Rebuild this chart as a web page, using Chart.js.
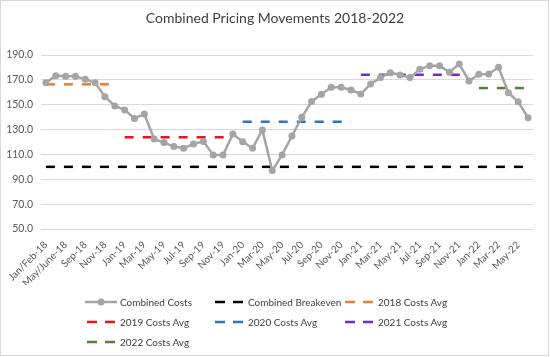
<!DOCTYPE html>
<html>
<head>
<meta charset="utf-8">
<script src="https://cdn.jsdelivr.net/npm/chart.js@4.4.1/dist/chart.umd.min.js"></script>
<style>
  html, body { margin: 0; padding: 0; background: #fff; }
  #wrap { position: relative; width: 550px; height: 357px; overflow: hidden; }
  #frame { position: absolute; left: 0; top: 0; width: 547px; height: 354px; border: 1px solid #D9D9D9; pointer-events: none; }
  #title { position: absolute; left: 0; width: 550px; top: 9px; text-align: center; font-family: Lato, "Open Sans", sans-serif; font-size: 14px; color: #404040; }
  #legend { position: absolute; left: 85px; top: 292px; font-family: Lato, "Open Sans", sans-serif; font-size: 10px; color: #404040; }
  .item { position: absolute; height: 20px; display: flex; align-items: center; white-space: nowrap; }
  .item svg { margin-right: 3px; }
</style>
</head>
<body>
<div id="wrap">
  <canvas id="c" width="550" height="357"></canvas>
  <div id="title">Combined Pricing Movements 2018-2022</div>
  <div id="legend"></div>
  <div id="frame"></div>
</div>
<script>
// ---- data ----
const categories = [
  'Jan/Feb-18','Mar/Apr-18','May/June-18','Jul/Aug-18','Sep-18','Oct-18','Nov-18','Dec-18',
  'Jan-19','Feb-19','Mar-19','Apr-19','May-19','Jun-19','Jul-19','Aug-19','Sep-19','Oct-19','Nov-19','Dec-19',
  'Jan-20','Feb-20','Mar-20','Apr-20','May-20','Jun-20','Jul-20','Aug-20','Sep-20','Oct-20','Nov-20','Dec-20',
  'Jan-21','Feb-21','Mar-21','Apr-21','May-21','Jun-21','Jul-21','Aug-21','Sep-21','Oct-21','Nov-21','Dec-21',
  'Jan-22','Feb-22','Mar-22','Apr-22','May-22','Jun-22'
];
const combinedCosts = [
  167.7,173.4,173.0,173.0,170.4,167.7,156.5,149.0,
  145.8,139.0,142.5,122.4,119.5,116.3,115.0,118.4,120.5,109.6,109.6,126.4,
  120.3,115.0,129.7,97.0,109.6,124.8,139.9,152.5,158.4,164.0,164.0,161.8,
  158.6,166.7,171.8,175.8,173.9,171.8,178.5,181.4,181.4,176.1,182.8,169.1,
  174.5,174.7,180.1,159.7,152.4,139.6
];
const combinedBreakeven = 100;
const avgNames   = ['2018 Costs Avg','2019 Costs Avg','2020 Costs Avg','2021 Costs Avg','2022 Costs Avg'];
const avgValues  = [166.4, 123.8, 136.3, 174.1, 163.4];
const avgStarts  = ['Jan/Feb-18','Jan-19','Jan-20','Jan-21','Jan-22'];
const avgEnds    = ['Dec-18','Dec-19','Dec-20','Dec-21','Jun-22'];
const yTicks = [50,70,90,110,130,150,170,190];

// ---- styles ----
const avgColors = ['#ED7D31','#E8141A','#2E75B6','#6A2BD9','#548235'];
const DASH = [9, 9];

const datasets = [{
  label: 'Combined Costs',
  data: combinedCosts,
  borderColor: '#A5A5A5',
  backgroundColor: '#A5A5A5',
  borderWidth: 2.5,
  pointRadius: 3.5,
  pointBorderWidth: 0,
  pointBackgroundColor: '#A5A5A5',
  tension: 0,
  order: 0
}, {
  label: 'Combined Breakeven',
  data: [{x: categories[0], y: combinedBreakeven}, {x: categories[categories.length - 1], y: combinedBreakeven}],
  borderColor: '#000000',
  borderWidth: 2.5,
  borderDash: DASH,
  pointRadius: 0,
  order: 1
}];
avgNames.forEach((n, i) => {
  datasets.push({
    label: n,
    data: [{x: avgStarts[i], y: avgValues[i]}, {x: avgEnds[i], y: avgValues[i]}],
    borderColor: avgColors[i],
    borderWidth: 2.5,
    borderDash: DASH,
    pointRadius: 0,
    order: 1
  });
});

const chart = new Chart(document.getElementById('c'), {
  type: 'line',
  data: { labels: categories, datasets },
  options: {
    responsive: false,
    animation: false,
    layout: { padding: { top: 55, right: 17, left: 0, bottom: 72 } },
    plugins: { legend: { display: false }, tooltip: { enabled: false }, title: { display: false } },
    scales: {
      x: {
        type: 'category',
        offset: true,
        grid: { display: false },
        border: { display: false },
        ticks: {
          autoSkip: false, maxRotation: 45, minRotation: 45, padding: 2,
          color: '#595959', font: { family: 'Lato', size: 10 },
          callback: function(v, i) { return i % 2 === 0 ? categories[i] : ''; }
        },
        afterFit: function(s) { s.height = 56; }
      },
      y: {
        min: yTicks[0], max: yTicks[yTicks.length - 1],
        afterBuildTicks: function(s) { s.ticks = yTicks.map(v => ({ value: v })); },
        grid: { color: '#D9D9D9', lineWidth: 1, drawTicks: false },
        border: { display: false },
        ticks: {
          padding: 8, color: '#595959', font: { family: 'Lato', size: 10.5 },
          callback: v => Number(v).toFixed(1)
        },
        afterFit: function(s) { s.width = 41; }
      }
    }
  }
});

// ---- HTML legend ----
const legendItems = [
  { text: 'Combined Costs', color: '#A5A5A5', solid: true, col: 0, row: 0 },
  { text: 'Combined Breakeven', color: '#000000', col: 1, row: 0 },
  { text: avgNames[0], color: avgColors[0], col: 2, row: 0 },
  { text: avgNames[1], color: avgColors[1], col: 0, row: 1 },
  { text: avgNames[2], color: avgColors[2], col: 1, row: 1 },
  { text: avgNames[3], color: avgColors[3], col: 2, row: 1 },
  { text: avgNames[4], color: avgColors[4], col: 0, row: 2 }
];
const colX = [0, 128, 258];
const legend = document.getElementById('legend');
legendItems.forEach(it => {
  const d = document.createElement('div');
  d.className = 'item';
  d.style.left = colX[it.col] + 'px';
  d.style.top = (it.row * 20) + 'px';
  const svg = it.solid
    ? `<svg width="32" height="8"><line x1="0" y1="4" x2="32" y2="4" stroke="${it.color}" stroke-width="2.5"/><circle cx="16" cy="4" r="3.5" fill="${it.color}"/></svg>`
    : `<svg width="32" height="8"><line x1="2" y1="4" x2="12" y2="4" stroke="${it.color}" stroke-width="2.5"/><line x1="20" y1="4" x2="30" y2="4" stroke="${it.color}" stroke-width="2.5"/></svg>`;
  d.innerHTML = svg + '<span>' + it.text + '</span>';
  legend.appendChild(d);
});
</script>
</body>
</html>
